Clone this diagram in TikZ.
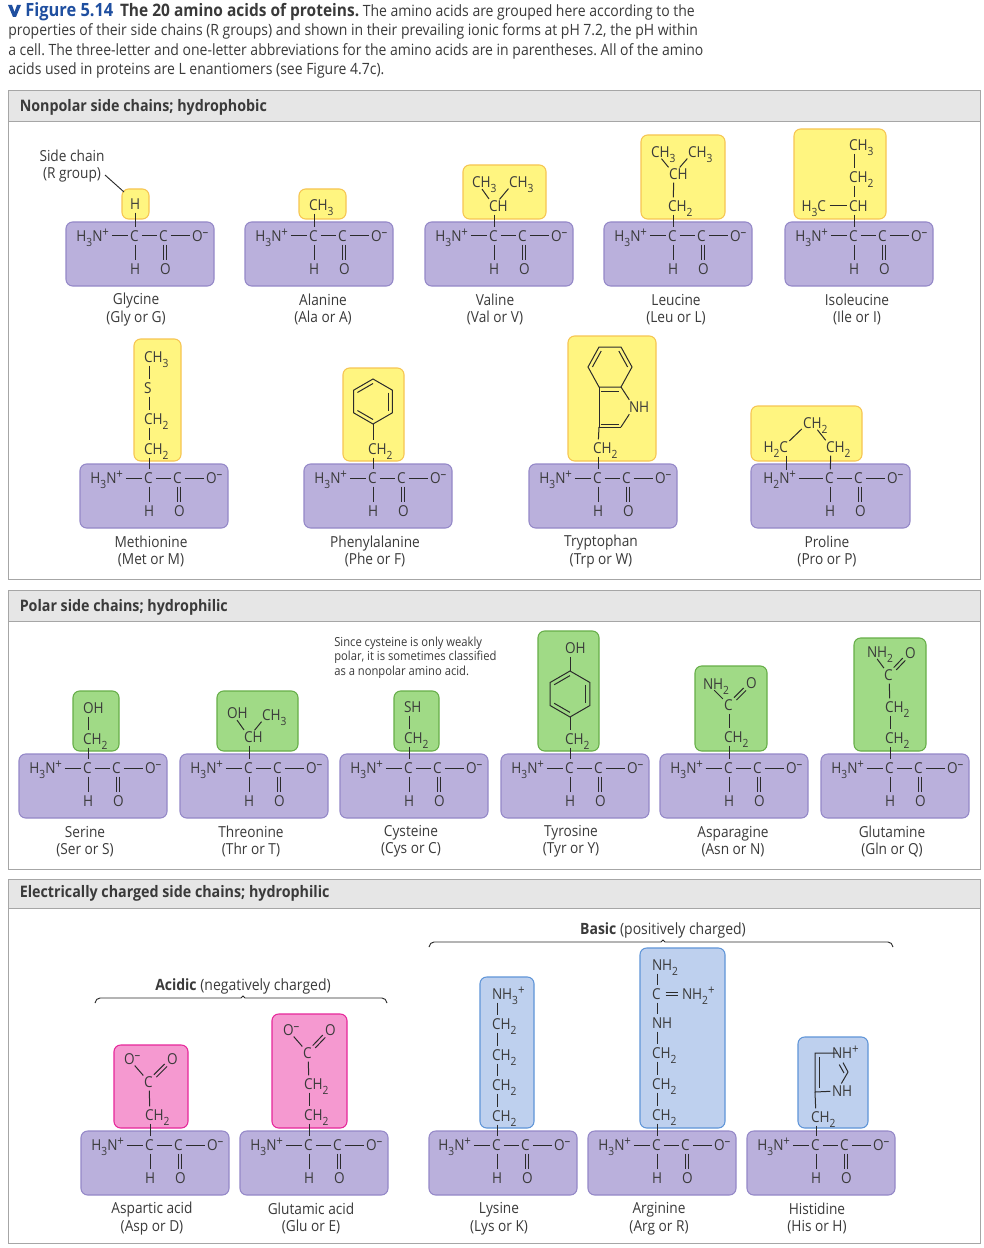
\documentclass[tikz,border=0pt]{standalone}
\usepackage{fontspec}
\setmainfont[FakeStretch=0.9]{Open Sans}
\usetikzlibrary{calc}
\definecolor{ink}{HTML}{2B2B2B}
\definecolor{txt}{HTML}{3A3A3A}
\definecolor{purplefill}{HTML}{BAB0DC}
\definecolor{purpleedge}{HTML}{9488C8}
\definecolor{yellowfill}{HTML}{FFF580}
\definecolor{yellowedge}{HTML}{F6C552}
\definecolor{greenfill}{HTML}{A0DA86}
\definecolor{greenedge}{HTML}{66AE48}
\definecolor{pinkfill}{HTML}{F599D0}
\definecolor{pinkedge}{HTML}{E6279A}
\definecolor{bluefill}{HTML}{BED0EE}
\definecolor{blueedge}{HTML}{5F95D8}
\definecolor{figblue}{HTML}{1F4FA0}
\definecolor{panelgray}{HTML}{E6E6E6}
\definecolor{paneledge}{HTML}{A6A6A6}
\newcommand{\sbs}[1]{\raisebox{-.3em}{\fontsize{8.5}{8.5}\selectfont #1}}
\newcommand{\sps}[1]{\raisebox{.36em}{\fontsize{9.5}{9.5}\selectfont #1}}
\frenchspacing
\tikzset{
  x=0.75pt,y=-0.75pt,
  atomtext/.style={inner sep=0pt,outer sep=0pt,text=txt,font=\fontsize{11.3}{13}\selectfont},
  bondsty/.style={draw=ink,line width=0.75pt,shorten <=6.5pt,shorten >=6.5pt},
  hbond/.style={draw=ink,line width=0.75pt,shorten <=5.2pt,shorten >=5pt},
  ringsty/.style={draw=ink,line width=0.75pt,line join=miter},
  innersty/.style={draw=ink,line width=0.75pt},
  basebox/.style={rounded corners=5pt,inner sep=0pt,outer sep=0pt,line width=0.8pt,anchor=north west},
  backbonebox/.style={basebox,draw=purpleedge,fill=purplefill},
  yellowbox/.style={basebox,draw=yellowedge,fill=yellowfill},
  greenbox/.style={basebox,draw=greenedge,fill=greenfill},
  pinkbox/.style={basebox,draw=pinkedge,fill=pinkfill},
  bluebox/.style={basebox,draw=blueedge,fill=bluefill},
  namelabel/.style={inner sep=0pt,text=txt,align=center,font=\fontsize{11.4}{13.1}\selectfont},
  captionline/.style={inner sep=0pt,text=txt,anchor=base west,font=\fontsize{11.66}{13}\selectfont},
  panelhead/.style={inner sep=0pt,text=txt,anchor=base west,font=\fontsize{11.9}{13}\selectfont\bfseries},
  panelbody/.style={draw=paneledge,line width=0.75pt,fill=white,inner sep=0pt,outer sep=0pt,anchor=north west},
  panelband/.style={draw=paneledge,line width=0.75pt,fill=panelgray,inner sep=0pt,outer sep=0pt,anchor=north west},
  leader/.style={draw=ink,line width=0.7pt},
  notetext/.style={inner sep=0pt,text=txt,anchor=base west,font=\fontsize{9.35}{11}\selectfont},
  brackettext/.style={inner sep=0pt,text=txt,font=\fontsize{11.66}{13}\selectfont},
}
% lead atom centred on (x,y), the text runs to the right of it
\newcommand{\atm}[4]{\coordinate (#1) at (#2,#3);
  \node[atomtext,anchor=base west] (#1-t) at (#2-5,#3+5.5) {#4};}
% lead atom centred on (x,y), the text ends at it
\newcommand{\atmr}[4]{\coordinate (#1) at (#2,#3);
  \node[atomtext,anchor=base east] (#1-t) at (#2+5,#3+5.5) {#4};}
\newcommand{\bnd}[2]{\draw[bondsty] (#1) -- (#2);}
\newcommand{\dbl}[2]{\draw[bondsty] ($(#1)!1.3pt!90:(#2)$) -- ($(#2)!1.3pt!-90:(#1)$);
  \draw[bondsty] ($(#1)!1.3pt!-90:(#2)$) -- ($(#2)!1.3pt!90:(#1)$);}
\newcommand{\sidebox}[6]{\node[#6,minimum width={(#4-#2)*0.75pt},minimum height={(#5-#3)*0.75pt}] (#1) at (#2,#3) {};}
% p, L, T, W, cx, Nx, N text, label x, label
\newcommand{\backbone}[9]{%
  \node[backbonebox,minimum width={(#4)*0.75pt},minimum height=48pt] (#1-box) at (#2,#3) {};
  \coordinate (#1-n) at (#6,#3+14);
  \node[atomtext,anchor=base east] (#1-n-t) at (#6+4,#3+19.5) {#7};
  \atm{#1-c}{#5}{#3+14}{C}
  \atm{#1-cc}{#5+29}{#3+14}{C}
  \atm{#1-om}{#5+62}{#3+14}{O\sps{–}}
  \atm{#1-h}{#5}{#3+47}{H}
  \atm{#1-o}{#5+30}{#3+47}{O}
  \draw[hbond] (#1-n) -- (#1-c);\draw[hbond] (#1-c) -- (#1-cc);\draw[hbond] (#1-cc) -- (#1-om);\bnd{#1-c}{#1-h}
  \draw[bondsty] ($(#1-cc)+(-0.5,0)$) -- ($(#1-cc)+(-0.5,33)$);
  \draw[bondsty] ($(#1-cc)+(2.5,0)$) -- ($(#1-cc)+(2.5,33)$);
  \node[namelabel] (#1-label) at (#8,#3+87.5) {#9};}
\newcommand{\stdacid}[5]{\backbone{#1}{#2}{#3}{148}{#2+69}{#2+39}{H\sbs{3}N\sps{+}}{#4}{#5}}
% benzene, pointed at top and bottom
\newcommand{\hexa}[4]{%
  \coordinate (#1-cen) at (#2,#3);
  \coordinate (#1-vt) at (#2,#3-#4);
  \coordinate (#1-vur) at (#2+0.866*#4,#3-0.5*#4);
  \coordinate (#1-vlr) at (#2+0.866*#4,#3+0.5*#4);
  \coordinate (#1-vb) at (#2,#3+#4);
  \coordinate (#1-vll) at (#2-0.866*#4,#3+0.5*#4);
  \coordinate (#1-vul) at (#2-0.866*#4,#3-0.5*#4);
  \draw[ringsty] (#1-vt) -- (#1-vur) -- (#1-vlr) -- (#1-vb) -- (#1-vll) -- (#1-vul) -- cycle;
  \draw[innersty] ($(#1-cen)!.8!(#1-vul)$) -- ($(#1-cen)!.8!(#1-vt)$);
  \draw[innersty] ($(#1-cen)!.8!(#1-vur)$) -- ($(#1-cen)!.8!(#1-vlr)$);
  \draw[innersty] ($(#1-cen)!.8!(#1-vll)$) -- ($(#1-cen)!.8!(#1-vb)$);}
\begin{document}
\begin{tikzpicture}
\useasboundingbox (0,0) rectangle (984,1248);
\fill[white] (0,0) rectangle (984,1248);

% ---- caption
\fill[figblue] (8,5) -- (12,5) -- (14.5,12) -- (17,5) -- (21,5) -- (16,17) -- (13,17) -- cycle;
\node[captionline] (cap1) at (25,17) {{\fontsize{13.7}{13}\selectfont\bfseries\color{figblue}Figure 5.14}\hspace{5pt}{\fontsize{12.9}{13}\selectfont\bfseries The 20 amino acids of proteins.} The amino acids are grouped here according to the};
\node[captionline] (cap2) at (8,36) {properties of their side chains (R groups) and shown in their prevailing ionic forms at pH 7.2, the pH within};
\node[captionline] (cap3) at (8,55.5) {a cell. The three-letter and one-letter abbreviations for the amino acids are in parentheses. All of the amino};
\node[captionline] (cap4) at (8,75) {acids used in proteins are L enantiomers (see Figure 4.7c).};

% ---- panels
\node[panelbody,minimum width=729pt,minimum height=366pt] (panelA) at (8,91) {};
\node[panelband,minimum width=729pt,minimum height=23.25pt] (bandA) at (8,91) {};
\node[panelhead] (headA) at (19.5,111.5) {Nonpolar side chains; hydrophobic};
\node[panelbody,minimum width=729pt,minimum height=209.25pt] (panelB) at (8,590) {};
\node[panelband,minimum width=729pt,minimum height=23.25pt] (bandB) at (8,590) {};
\node[panelhead] (headB) at (19.5,611) {Polar side chains; hydrophilic};
\node[panelbody,minimum width=729pt,minimum height=273pt] (panelC) at (8,879) {};
\node[panelband,minimum width=729pt,minimum height=21.75pt] (bandC) at (8,879) {};
\node[panelhead] (headC) at (19.5,897) {Electrically charged side chains; hydrophilic};

% ---- side-chain boxes
\sidebox{gly-r}{122}{189}{149}{219}{yellowbox}
\sidebox{ala-r}{299}{189}{346}{219}{yellowbox}
\sidebox{val-r}{463}{165}{546}{219}{yellowbox}
\sidebox{leu-r}{641}{135}{725}{219}{yellowbox}
\sidebox{ile-r}{794}{129}{886}{219}{yellowbox}
\sidebox{met-r}{134}{339}{181}{461}{yellowbox}
\sidebox{phe-r}{343}{368}{404}{461}{yellowbox}
\sidebox{trp-r}{568}{336}{656}{461}{yellowbox}
\sidebox{pro-r}{751}{406}{862}{461}{yellowbox}
\sidebox{ser-r}{73}{691}{119}{751}{greenbox}
\sidebox{thr-r}{217}{691}{298}{751}{greenbox}
\sidebox{cys-r}{394}{691}{439}{751}{greenbox}
\sidebox{tyr-r}{538}{631}{599}{751}{greenbox}
\sidebox{asn-r}{695}{666}{767}{751}{greenbox}
\sidebox{gln-r}{854}{638}{926}{751}{greenbox}
\sidebox{asp-r}{114}{1045}{188}{1128}{pinkbox}
\sidebox{glu-r}{272}{1014}{347}{1128}{pinkbox}
\sidebox{lys-r}{480}{977}{534}{1128}{bluebox}
\sidebox{arg-r}{640}{948}{725}{1128}{bluebox}
\sidebox{his-r}{798}{1037}{868}{1128}{bluebox}

% ---- backbones
\stdacid{gly}{66}{222}{136}{Glycine\\(Gly or G)}
\stdacid{ala}{245}{222}{323}{Alanine\\(Ala or A)}
\stdacid{val}{425}{222}{495}{Valine\\(Val or V)}
\stdacid{leu}{604}{222}{676}{Leucine\\(Leu or L)}
\stdacid{ile}{785}{222}{857}{Isoleucine\\(Ile or I)}
\stdacid{met}{80}{464}{151}{Methionine\\(Met or M)}
\stdacid{phe}{304}{464}{375}{Phenylalanine\\(Phe or F)}
\stdacid{trp}{529}{464}{601}{Tryptophan\\(Trp or W)}
\backbone{pro}{751}{464}{159}{830}{792}{H\sbs{2}N\sps{+}}{827}{Proline\\(Pro or P)}
\stdacid{ser}{19}{754}{85}{Serine\\(Ser or S)}
\stdacid{thr}{180}{754}{251}{Threonine\\(Thr or T)}
\stdacid{cys}{340}{754}{411}{Cysteine\\(Cys or C)}
\stdacid{tyr}{501}{754}{571}{Tyrosine\\(Tyr or Y)}
\stdacid{asn}{660}{754}{733}{Asparagine\\(Asn or N)}
\stdacid{gln}{821}{754}{892}{Glutamine\\(Gln or Q)}
\stdacid{asp}{81}{1131}{152}{Aspartic acid\\(Asp or D)}
\stdacid{glu}{240}{1131}{311}{Glutamic acid\\(Glu or E)}
\backbone{lys}{429}{1131}{148}{497}{467}{H\sbs{3}N\sps{+}}{499}{Lysine\\(Lys or K)}
\stdacid{arg}{588}{1131}{659}{Arginine\\(Arg or R)}
\stdacid{his}{747}{1131}{817}{Histidine\\(His or H)}

% ---- glycine
\atm{gly-a}{135}{204}{H}\bnd{gly-a}{gly-c}
% ---- alanine
\atm{ala-a}{314}{205}{CH\sbs{3}}\bnd{ala-a}{ala-c}
% ---- valine
\atm{val-a}{477}{182}{CH\sbs{3}}\atm{val-b}{514}{182}{CH\sbs{3}}\atm{val-d}{494}{206}{CH}
\bnd{val-a}{val-d}\bnd{val-b}{val-d}\bnd{val-d}{val-c}
% ---- leucine
\atm{leu-a}{656}{152}{CH\sbs{3}}\atm{leu-b}{693}{152}{CH\sbs{3}}\atm{leu-d}{674}{174}{CH}\atm{leu-e}{673}{206}{CH\sbs{2}}
\bnd{leu-a}{leu-d}\bnd{leu-b}{leu-d}\bnd{leu-d}{leu-e}\bnd{leu-e}{leu-c}
% ---- isoleucine
\atm{ile-a}{854}{145}{CH\sbs{3}}\atm{ile-b}{854}{177}{CH\sbs{2}}\atm{ile-d}{854}{206}{CH}\atmr{ile-e}{821}{206}{H\sbs{3}C}
\bnd{ile-a}{ile-b}\bnd{ile-b}{ile-d}\draw[hbond,shorten <=6.5pt] (ile-e) -- (ile-d);\bnd{ile-d}{ile-c}
% ---- methionine
\atm{met-a}{149}{357}{CH\sbs{3}}\atm{met-s}{149}{388}{S}\atm{met-b}{149}{419}{CH\sbs{2}}\atm{met-d}{149}{449}{CH\sbs{2}}
\bnd{met-a}{met-s}\bnd{met-s}{met-b}\bnd{met-b}{met-d}\bnd{met-d}{met-c}
% ---- phenylalanine
\hexa{phe-ring}{373}{401.5}{22.5}
\atm{phe-a}{373}{449}{CH\sbs{2}}
\draw[bondsty,shorten <=0pt] (phe-ring-vb) -- (phe-a);\bnd{phe-a}{phe-c}
% ---- tryptophan
\coordinate (trp-1) at (599,347);\coordinate (trp-2) at (621,347);\coordinate (trp-3) at (632,367);
\coordinate (trp-4) at (621,387);\coordinate (trp-5) at (599,387);\coordinate (trp-6) at (588,367);
\coordinate (trp-7) at (621,427);\coordinate (trp-8) at (599,427);
\coordinate (trp-cen) at (610,367);\coordinate (trp-cen2) at (610,407);
\draw[ringsty] (trp-1) -- (trp-2) -- (trp-3) -- (trp-4) -- (trp-5) -- (trp-6) -- cycle;
\draw[ringsty] (trp-5) -- (trp-8) -- (trp-7);
\draw[innersty] ($(trp-cen)!.8!(trp-6)$) -- ($(trp-cen)!.8!(trp-1)$);
\draw[innersty] ($(trp-cen)!.8!(trp-2)$) -- ($(trp-cen)!.8!(trp-3)$);
\draw[innersty] ($(trp-cen2)!.78!(trp-5)$) -- ($(trp-cen2)!.78!(trp-4)$);
\draw[innersty] ($(trp-cen2)!.85!(trp-8)$) -- ($(trp-cen2)!.85!(trp-7)$);
\atm{trp-nh}{634}{407}{NH}
\draw[bondsty,shorten <=0pt] (trp-4) -- (trp-nh);\draw[bondsty,shorten <=0pt] (trp-7) -- (trp-nh);
\atm{trp-a}{598}{448}{CH\sbs{2}}
\draw[bondsty,shorten <=0pt] (trp-8) -- (trp-a);\bnd{trp-a}{trp-c}
% ---- proline
\atm{pro-a}{808}{423}{CH\sbs{2}}\atmr{pro-b}{783}{447}{H\sbs{2}C}\atm{pro-d}{831}{447}{CH\sbs{2}}
\coordinate (pro-a2) at (812,423);\coordinate (pro-nv) at (786,479);\coordinate (pro-b2) at (786,447);
\bnd{pro-a}{pro-b}\bnd{pro-a2}{pro-d}\bnd{pro-b2}{pro-nv}\bnd{pro-d}{pro-c}
% ---- serine
\atm{ser-a}{88}{708}{OH}\atm{ser-b}{88}{739}{CH\sbs{2}}\bnd{ser-a}{ser-b}\bnd{ser-b}{ser-c}
% ---- threonine
\atm{thr-a}{232}{713}{OH}\atm{thr-b}{267}{715}{CH\sbs{3}}\atm{thr-d}{249}{737}{CH}
\bnd{thr-a}{thr-d}\bnd{thr-b}{thr-d}\bnd{thr-d}{thr-c}
% ---- cysteine
\atm{cys-a}{409}{707}{SH}\atm{cys-b}{409}{738}{CH\sbs{2}}\bnd{cys-a}{cys-b}\bnd{cys-b}{cys-c}
% ---- tyrosine
\hexa{tyr-ring}{570}{694}{23}
\atm{tyr-a}{570}{648}{OH}\atm{tyr-b}{570}{739}{CH\sbs{2}}
\draw[bondsty,shorten >=0pt] (tyr-a) -- (tyr-ring-vt);\draw[bondsty,shorten <=0pt] (tyr-ring-vb) -- (tyr-b);\bnd{tyr-b}{tyr-c}
% ---- asparagine
\atm{asn-a}{708}{684}{NH\sbs{2}}\atm{asn-o}{751}{683}{O}\atm{asn-d}{729}{705}{C}\atm{asn-b}{729}{737}{CH\sbs{2}}
\bnd{asn-a}{asn-d}\dbl{asn-d}{asn-o}\bnd{asn-d}{asn-b}\bnd{asn-b}{asn-c}
% ---- glutamine
\atm{gln-a}{872}{652}{NH\sbs{2}}\atm{gln-o}{910}{653}{O}\atm{gln-d}{889}{675}{C}\atm{gln-b}{890}{707}{CH\sbs{2}}\atm{gln-e}{890}{738}{CH\sbs{2}}
\bnd{gln-a}{gln-d}\dbl{gln-d}{gln-o}\bnd{gln-d}{gln-b}\bnd{gln-b}{gln-e}\bnd{gln-e}{gln-c}
% ---- aspartate
\atm{asp-a}{129}{1059}{O\sps{–}}\atm{asp-o}{172}{1059}{O}\atm{asp-d}{149}{1082}{C}\atm{asp-b}{150}{1115}{CH\sbs{2}}
\bnd{asp-a}{asp-d}\dbl{asp-d}{asp-o}\bnd{asp-d}{asp-b}\bnd{asp-b}{asp-c}
% ---- glutamate
\atm{glu-a}{288}{1030}{O\sps{–}}\atm{glu-o}{330}{1030}{O}\atm{glu-d}{308}{1053}{C}\atm{glu-b}{309}{1084}{CH\sbs{2}}\atm{glu-e}{309}{1115}{CH\sbs{2}}
\bnd{glu-a}{glu-d}\dbl{glu-d}{glu-o}\bnd{glu-d}{glu-b}\bnd{glu-b}{glu-e}\bnd{glu-e}{glu-c}
% ---- lysine
\atm{lys-a}{497}{994}{NH\sbs{3}\sps{+}}\atm{lys-b}{497}{1024}{CH\sbs{2}}\atm{lys-d}{497}{1055}{CH\sbs{2}}\atm{lys-e}{497}{1085}{CH\sbs{2}}\atm{lys-f}{497}{1116}{CH\sbs{2}}
\bnd{lys-a}{lys-b}\bnd{lys-b}{lys-d}\bnd{lys-d}{lys-e}\bnd{lys-e}{lys-f}\bnd{lys-f}{lys-c}
% ---- arginine
\atm{arg-a}{657}{965}{NH\sbs{2}}\atm{arg-b}{657}{994}{C}\atm{arg-d}{687}{994}{NH\sbs{2}\sps{+}}\atm{arg-e}{657}{1023}{NH}
\atm{arg-f}{657}{1053}{CH\sbs{2}}\atm{arg-g}{657}{1084}{CH\sbs{2}}\atm{arg-h}{657}{1115}{CH\sbs{2}}
\bnd{arg-a}{arg-b}\dbl{arg-b}{arg-d}\bnd{arg-b}{arg-e}\bnd{arg-e}{arg-f}\bnd{arg-f}{arg-g}\bnd{arg-g}{arg-h}\bnd{arg-h}{arg-c}
% ---- histidine
\coordinate (his-1) at (815,1053);\coordinate (his-2) at (815,1092);\coordinate (his-3) at (848,1072);
\atm{his-nt}{837}{1053}{NH\sps{+}}\atm{his-nb}{837}{1091}{NH}\atm{his-a}{816}{1117}{CH\sbs{2}}
\draw[ringsty,shorten >=5pt] (his-nt) -- (his-1) -- (his-2) -- (his-nb);
\draw[innersty] ($(his-1)+(4,4)$) -- ($(his-2)+(4,-4)$);
\draw[bondsty,shorten >=0pt] ($(his-nt)+(2,2)$) -- (his-3);
\draw[bondsty,shorten >=0pt] ($(his-nt)+(-2,4)$) -- ($(his-3)+(-4,1)$);
\draw[bondsty,shorten <=0pt] (his-3) -- (his-nb);
\draw[bondsty,shorten <=0pt] (his-2) -- (his-a);\bnd{his-a}{his-c}

% ---- leader
\node[namelabel] (sidelabel) at (72,166) {Side chain\\(R group)};
\coordinate (lead-a) at (105,175);\coordinate (lead-b) at (124,192);
\draw[leader] (lead-a) -- (lead-b);

% ---- cysteine note
\node[notetext] (note1) at (334,646) {Since cysteine is only weakly};
\node[notetext] (note2) at (334,660) {polar, it is sometimes classified};
\node[notetext] (note3) at (334,675) {as a nonpolar amino acid.};

% ---- brackets
\node[brackettext] (acidic) at (243,986) {{\bfseries Acidic} (negatively charged)};
\coordinate (acL) at (95,1003);\coordinate (acR) at (387,1003);\coordinate (acM) at (243,996);
\draw[leader] (acL) .. controls (96,1000) and (97,998) .. (100,998) -- (241,998) -- (acM) -- (245,998) -- (382,998) .. controls (385,998) and (386,1000) .. (acR);
\node[brackettext] (basic) at (663,930) {{\bfseries Basic} (positively charged)};
\coordinate (baL) at (429,947);\coordinate (baR) at (893,947);\coordinate (baM) at (663,940);
\draw[leader] (baL) .. controls (430,944) and (431,942) .. (434,942) -- (661,942) -- (baM) -- (665,942) -- (888,942) .. controls (891,942) and (892,944) .. (baR);
\end{tikzpicture}
\end{document}
